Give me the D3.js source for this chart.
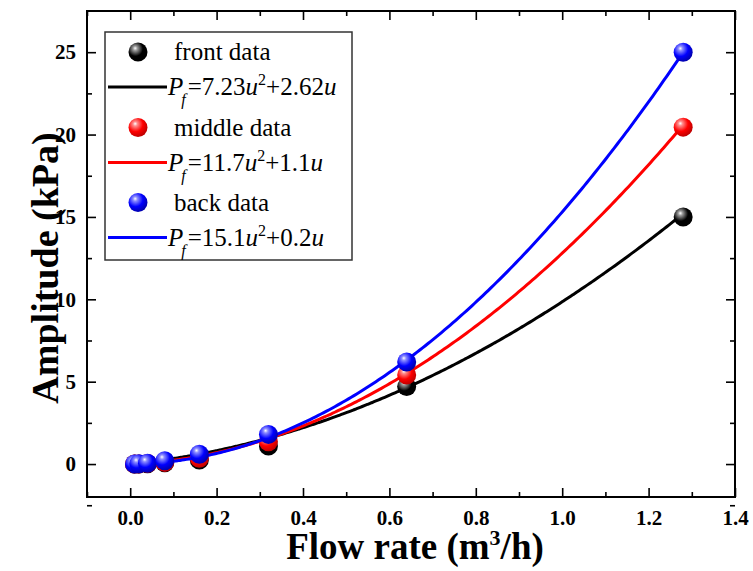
<!DOCTYPE html>
<html><head><meta charset="utf-8">
<script src="https://cdn.jsdelivr.net/npm/d3@7/dist/d3.min.js"></script>
<style>body{margin:0;background:#fff}svg{display:block}</style>
</head><body>
<script>
const flowRate = [0.01, 0.02, 0.04, 0.08, 0.16, 0.32, 0.64, 1.28];
const frontData = [0.0, 0.01, 0.02, 0.08, 0.25, 1.1, 4.7, 15.0];
const middleData = [0.0, 0.01, 0.03, 0.1, 0.35, 1.35, 5.4, 20.45];
const backData = [0.01, 0.02, 0.05, 0.2, 0.6, 1.8, 6.2, 25.0];
const seriesNames = ["front data", "middle data", "back data"];
const fitA = [7.23, 11.7, 15.1];
const fitB = [2.62, 1.1, 0.2];
const fitLabelA = ["7.23", "11.7", "15.1"];
const fitLabelB = ["2.62", "1.1", "0.2"];
const colors = ["#000000", "#ff0000", "#0000ff"];
const xTicks = [0, 0.2, 0.4, 0.6, 0.8, 1.0, 1.2, 1.4];
const xMinor = [-0.1, 0.1, 0.3, 0.5, 0.7, 0.9, 1.1, 1.3];
const yTicks = [0, 5, 10, 15, 20, 25];
const yMinor = [-2.5, 2.5, 7.5, 12.5, 17.5, 22.5];

const FONT = "'Liberation Serif', 'Times New Roman', serif";
const W = 753, H = 571;
const L = 87, R = 735, T = 11, B = 497;
const svg = d3.select("body").append("svg").attr("width", W).attr("height", H).attr("font-family", FONT);
const x = d3.scaleLinear([-0.1, 1.4], [L, R]);
const y = d3.scaleLinear([-2, 27.5], [B, T]);

const defs = svg.append("defs");
const gradStops = [
  ["#ffffff", "#9a9a9a", "#000000", "#000000"],
  ["#ffffff", "#ff8c8c", "#ff0000", "#c00000"],
  ["#ffffff", "#8c8cff", "#0000ff", "#0000b0"]
];
gradStops.forEach((s, i) => {
  const g = defs.append("radialGradient").attr("id", "g" + i)
    .attr("cx", "38%").attr("cy", "35%").attr("r", "65%").attr("fx", "35%").attr("fy", "30%");
  [0, 0.18, 0.6, 1].forEach((o, j) => g.append("stop").attr("offset", o).attr("stop-color", s[j]));
});
defs.append("clipPath").attr("id", "clip").append("rect").attr("x", L).attr("y", T).attr("width", R - L).attr("height", B - T);

// axes
const tickFont = g => g.attr("font-family", FONT).selectAll("text")
  .attr("font-family", FONT).attr("font-size", 21).attr("font-weight", "bold").attr("fill", "#000");
const styleAxis = g => { g.select(".domain").remove(); g.selectAll("line").attr("stroke", "#000").attr("stroke-width", 1.6); };
svg.append("g").attr("transform", `translate(0,${B})`)
  .call(d3.axisBottom(x).tickValues(xTicks).tickFormat(d3.format(".1f")).tickSize(-9).tickPadding(13))
  .call(styleAxis).call(tickFont);
svg.append("g").attr("transform", `translate(0,${B})`)
  .call(d3.axisBottom(x).tickValues(xMinor).tickFormat("").tickSize(-5)).call(styleAxis);
svg.append("g").attr("transform", `translate(0,${T})`)
  .call(d3.axisTop(x).tickValues(xTicks).tickFormat("").tickSize(-9)).call(styleAxis);
svg.append("g").attr("transform", `translate(0,${T})`)
  .call(d3.axisTop(x).tickValues(xMinor).tickFormat("").tickSize(-5)).call(styleAxis);
svg.append("g").attr("transform", `translate(${L},0)`)
  .call(d3.axisLeft(y).tickValues(yTicks).tickFormat(d3.format("d")).tickSize(-9).tickPadding(11))
  .call(styleAxis).call(tickFont);
svg.append("g").attr("transform", `translate(${L},0)`)
  .call(d3.axisLeft(y).tickValues(yMinor).tickFormat("").tickSize(-5)).call(styleAxis);
svg.append("g").attr("transform", `translate(${R},0)`)
  .call(d3.axisRight(y).tickValues(yTicks).tickFormat("").tickSize(-9)).call(styleAxis);
svg.append("g").attr("transform", `translate(${R},0)`)
  .call(d3.axisRight(y).tickValues(yMinor).tickFormat("").tickSize(-5)).call(styleAxis);

svg.append("rect").attr("x", L).attr("y", T).attr("width", R - L).attr("height", B - T)
  .attr("fill", "none").attr("stroke", "#000").attr("stroke-width", 2);

// titles
const xt = svg.append("text").attr("x", 415).attr("y", 559).attr("text-anchor", "middle")
  .attr("font-family", FONT).attr("font-size", 37).attr("font-weight", "bold");
xt.append("tspan").text("Flow rate (m");
xt.append("tspan").attr("font-size", 22).attr("dy", -14).text("3");
xt.append("tspan").attr("dy", 14).text("/h)");
svg.append("text").attr("transform", "translate(58,268) rotate(-90)").attr("text-anchor", "middle")
  .attr("font-family", FONT).attr("font-size", 38).attr("font-weight", "bold").text("Amplitude (kPa)");

// data
const allData = [frontData, middleData, backData];
const plot = svg.append("g").attr("clip-path", "url(#clip)");
const line = d3.line().x(d => x(d[0])).y(d => y(d[1])).curve(d3.curveMonotoneX);
allData.forEach((vals, i) => {
  const xs = d3.range(0, 201).map(k => flowRate[0] + (flowRate[flowRate.length - 1] - flowRate[0]) * k / 200);
  const pts = xs.map(u => [u, fitA[i] * u * u + fitB[i] * u]);
  plot.append("path").attr("d", line(pts)).attr("fill", "none").attr("stroke", colors[i]).attr("stroke-width", 3);
  plot.selectAll(null).data(flowRate.map((u, k) => [u, vals[k]])).join("circle")
    .attr("cx", d => x(d[0])).attr("cy", d => y(d[1])).attr("r", 9.5).attr("fill", `url(#g${i})`);
});

// legend
const lg = svg.append("g");
lg.append("rect").attr("x", 105).attr("y", 32).attr("width", 247).attr("height", 228)
  .attr("fill", "#fff").attr("stroke", "#333").attr("stroke-width", 1.5);
const rowY = [52, 87, 127.5, 162.5, 202.5, 237.5];
seriesNames.forEach((name, i) => {
  const yd = rowY[2 * i], yf = rowY[2 * i + 1];
  lg.append("circle").attr("cx", 138).attr("cy", yd).attr("r", 9.5).attr("fill", `url(#g${i})`);
  lg.append("text").attr("x", 174).attr("y", yd + 8).attr("font-family", FONT).attr("font-size", 25).text(name);
  lg.append("line").attr("x1", 108).attr("x2", 167).attr("y1", yf).attr("y2", yf)
    .attr("stroke", colors[i]).attr("stroke-width", 3);
  const t = lg.append("text").attr("x", 168).attr("y", yf + 8).attr("font-family", FONT).attr("font-size", 25);
  t.append("tspan").attr("font-style", "italic").text("P");
  t.append("tspan").attr("font-style", "italic").attr("font-size", 16).attr("dy", 10).attr("dx", -2).text("f");
  t.append("tspan").attr("dy", -10).attr("dx", 2).text("=" + fitLabelA[i]);
  t.append("tspan").attr("font-style", "italic").text("u");
  t.append("tspan").attr("font-size", 16).attr("dy", -10).text("2");
  t.append("tspan").attr("dy", 10).text("+" + fitLabelB[i]);
  t.append("tspan").attr("font-style", "italic").text("u");
});
</script>
</body></html>
